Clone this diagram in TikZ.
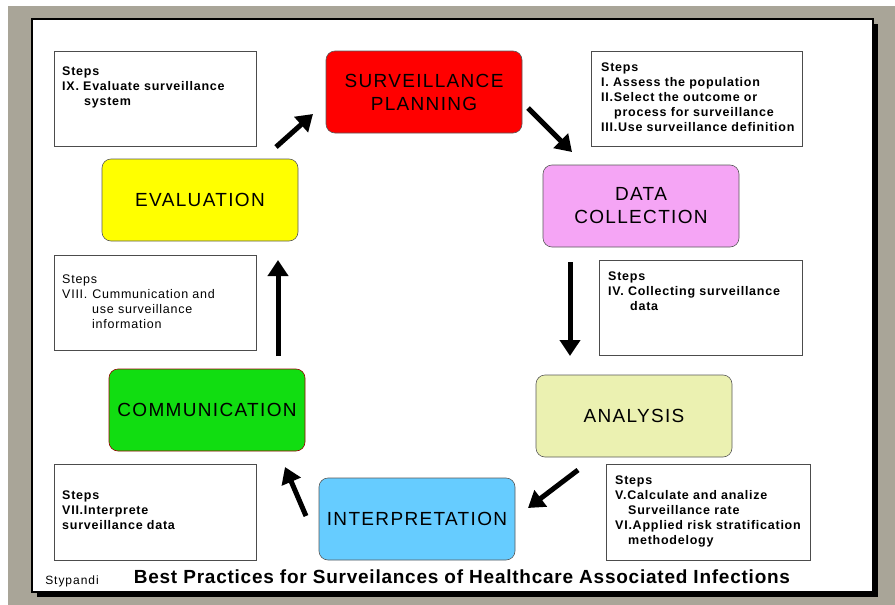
\documentclass[tikz,border=0pt]{standalone}
\usepackage{fontspec}
\setmainfont{Liberation Sans}
\usetikzlibrary{arrows.meta}
\definecolor{slidegray}{HTML}{A9A598}
\definecolor{planred}{HTML}{FF0000}
\definecolor{datapink}{HTML}{F5A5F5}
\definecolor{analysisgreen}{HTML}{EBF1B1}
\definecolor{interpblue}{HTML}{66CCFF}
\definecolor{commgreen}{HTML}{11DD11}
\definecolor{evalyellow}{HTML}{FFFF00}
\newcommand{\stagefont}{\fontsize{19}{23}\selectfont\addfontfeatures{LetterSpace=7}}
\newcommand{\stepfont}{\fontsize{12.5}{15}\selectfont\addfontfeatures{LetterSpace=6}}
\tikzset{
  stage/.style={draw=black!65, line width=0.6pt, rounded corners=9pt,
    minimum width=196pt, minimum height=82pt, align=center, font=\stagefont},
  stepbox/.style={draw=black!70, line width=0.8pt, anchor=north west, inner sep=0pt},
  steptext/.style={anchor=north west, align=left, inner sep=0pt, font=\bfseries\stepfont},
  flow/.style={line width=5pt, -{Triangle[length=16pt,width=20pt]}}
}

\begin{document}
\begin{tikzpicture}[x=1pt,y=-1pt]
\useasboundingbox (0,0) rectangle (895,605);
% slide background
\fill[slidegray] (8,6) rectangle (895,605);
\fill[black] (37,24) rectangle (878,597);
\draw[fill=white, line width=1.2pt] (32,19) rectangle (873,592);

% stages
\node[stage, fill=planred] (plan) at (424,92) {SURVEILLANCE\\PLANNING};
\node[stage, fill=datapink] (data) at (641,206) {DATA\\COLLECTION};
\node[stage, fill=analysisgreen] (analysis) at (634,416) {ANALYSIS};
\node[stage, fill=interpblue] (interp) at (417,519) {INTERPRETATION};
\node[stage, fill=commgreen, draw=red!60!black] (comm) at (207,410) {COMMUNICATION};
\node[stage, fill=evalyellow] (eval) at (200,200) {EVALUATION};

% step boxes
\node[stepbox, minimum width=202pt, minimum height=95pt] (evalsteps) at (54,51) {};
\node[stepbox, minimum width=211pt, minimum height=95pt] (plansteps) at (591,51) {};
\node[stepbox, minimum width=203pt, minimum height=95pt] (datasteps) at (599,260) {};
\node[stepbox, minimum width=202pt, minimum height=95pt] (commsteps) at (54,255) {};
\node[stepbox, minimum width=202pt, minimum height=96pt] (interpsteps) at (54,464) {};
\node[stepbox, minimum width=204pt, minimum height=96pt] (analysissteps) at (606,464) {};

% step texts
\node[steptext] (evaltext) at (62,67) {Steps\\IX. Evaluate surveillance\\\hspace*{22pt}system};
\node[steptext] (plantext) at (601,63) {Steps\\I. Assess the population\\II.Select the outcome or\\\hspace*{13pt}process for surveillance\\III.Use surveillance definition};
\node[steptext] (datatext) at (608,272) {Steps\\IV. Collecting surveillance\\\hspace*{22pt}data};
\node[steptext, font=\stepfont] (commtext) at (62,275) {Steps\\VIII.\hspace*{5pt}Cummunication and\\\hspace*{30pt}use surveillance\\\hspace*{30pt}information};
\node[steptext] (interptext) at (62,491) {Steps\\VII.Interprete\\surveillance data};
\node[steptext] (analysistext) at (615,476) {Steps\\V.Calculate and analize\\\hspace*{13pt}Surveillance rate\\VI.Applied risk stratification\\\hspace*{13pt}methodelogy};

% arrows
\coordinate (e2p) at (276,147);
\coordinate (p2e) at (313,114);
\coordinate (p2d) at (528,108);
\coordinate (d2p) at (572,152);
\coordinate (d2a) at (570,262);
\coordinate (a2d) at (570,356);
\coordinate (a2i) at (578,470);
\coordinate (i2a) at (528,508);
\coordinate (i2c) at (306,516);
\coordinate (c2i) at (285,467);
\coordinate (c2e) at (278,356);
\coordinate (e2c) at (278,260);
\draw[flow] (e2p) -- (p2e);
\draw[flow] (p2d) -- (d2p);
\draw[flow] (d2a) -- (a2d);
\draw[flow] (a2i) -- (i2a);
\draw[flow] (i2c) -- (c2i);
\draw[flow] (c2e) -- (e2c);

% footer
\node[font=\fontsize{12}{14}\selectfont\addfontfeatures{LetterSpace=8}] (author) at (72,581) {Stypandi};
\node[font=\bfseries\fontsize{19}{22}\selectfont\addfontfeatures{LetterSpace=4}] (title) at (462,577) {Best Practices for Surveilances of Healthcare Associated Infections};
\end{tikzpicture}
\end{document}
